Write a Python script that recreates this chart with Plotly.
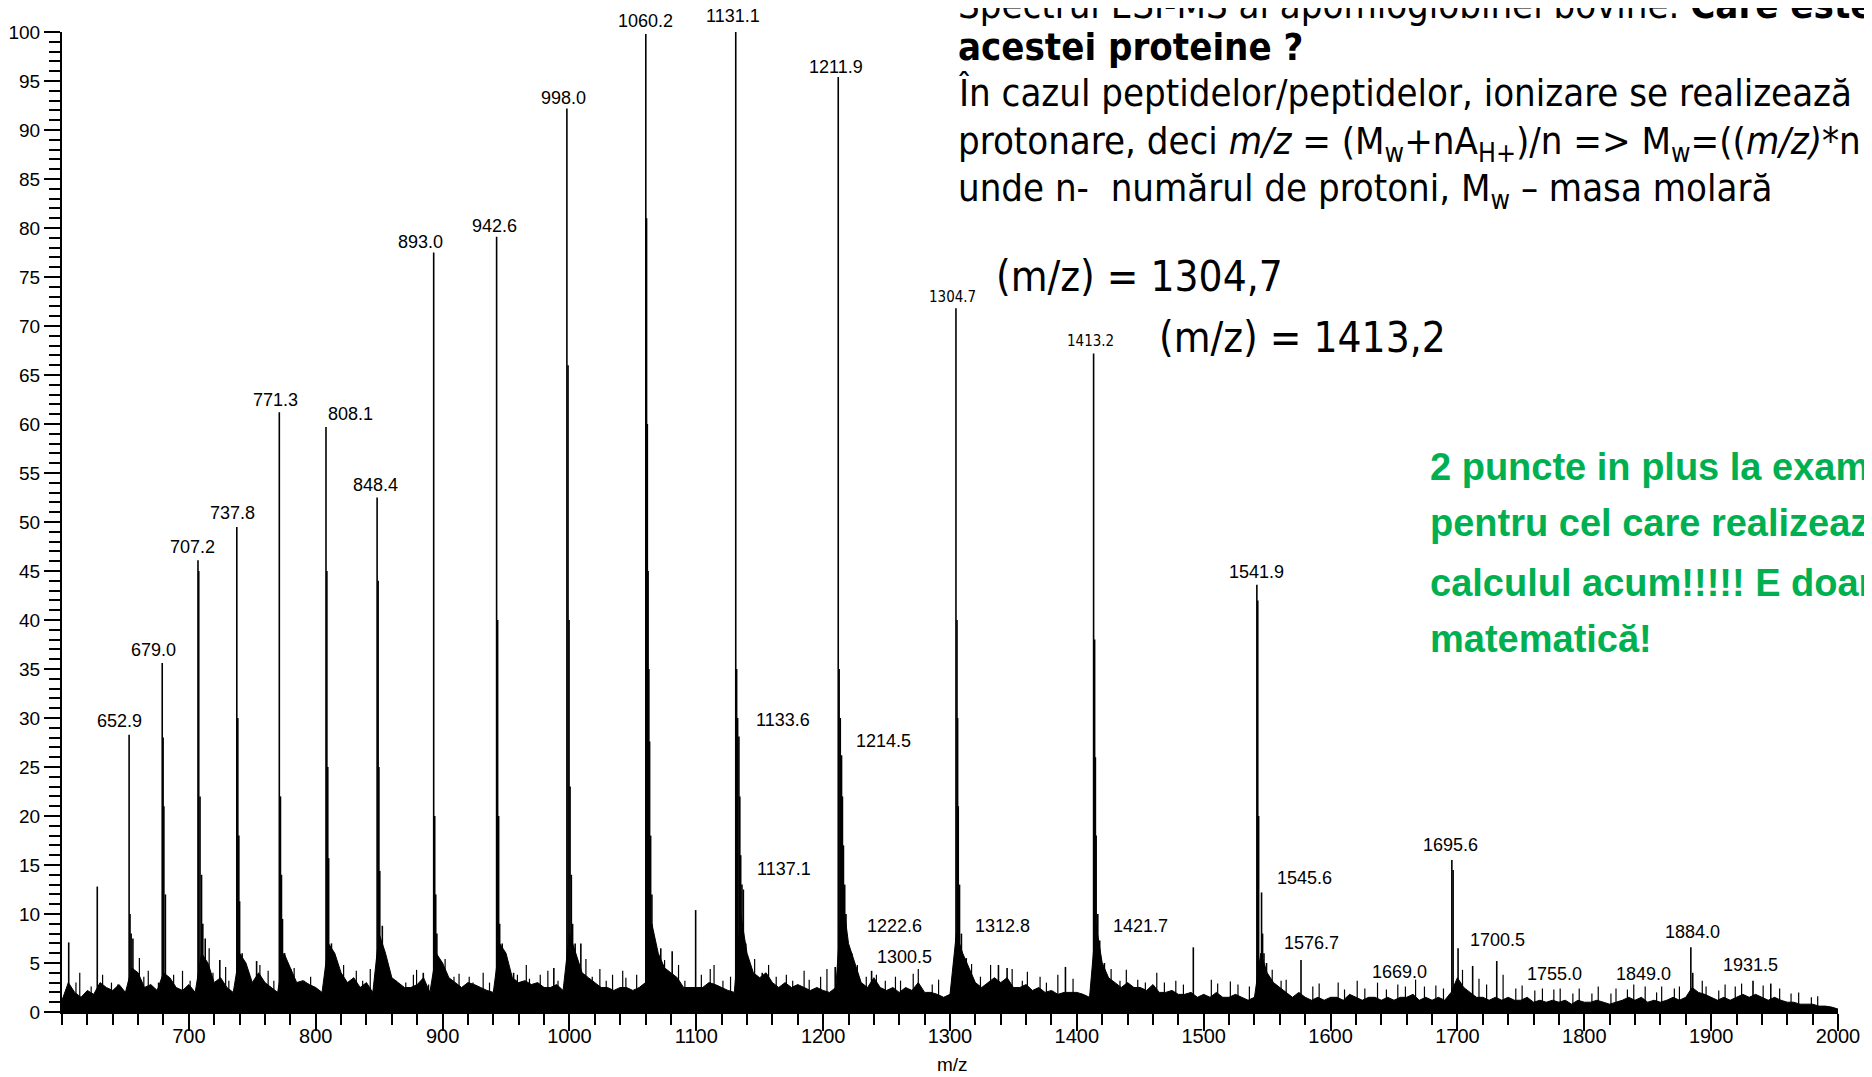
import plotly.graph_objects as go

# ---------------- data ----------------
# baseline (noise) profile of the spectrum, sampled every 5 m/z units
baseline_mz = list(range(600, 2001, 5))
baseline_int = [
    1.2, 3.0, 2.0, 1.5, 2.2, 1.8, 3.0, 2.5, 2.2, 2.8,   # 600-645
    2.0, 4.5, 4.0, 2.5, 2.8, 2.2, 4.0, 3.5, 2.5, 2.2,   # 650-695
    2.8, 2.0, 6.0, 5.0, 3.0, 3.5, 2.5, 2.0, 6.0, 5.0,   # 700-745
    3.0, 4.0, 3.0, 2.5, 2.0, 6.0, 4.5, 3.0, 3.2, 2.8,   # 750-795
    2.5, 2.0, 7.0, 6.0, 4.0, 3.0, 3.5, 2.5, 3.0, 2.0,   # 800-845
    8.0, 6.0, 3.5, 3.0, 2.5, 2.5, 2.8, 3.5, 2.0, 6.0,   # 850-895
    5.0, 3.5, 3.0, 2.5, 3.0, 2.8, 2.5, 2.2, 2.0, 7.0,   # 900-945
    6.0, 3.5, 3.0, 3.2, 2.8, 3.0, 2.5, 2.5, 2.8, 2.2,   # 950-995
    8.0, 6.0, 4.0, 3.5, 3.0, 2.5, 2.5, 2.2, 2.5, 2.5,   # 1000-1045
    2.2, 2.5, 3.0, 9.0, 6.0, 4.5, 4.0, 3.5, 2.5, 2.5,   # 1050-1095
    2.5, 2.5, 3.0, 2.8, 2.5, 2.2, 2.0, 10.0, 6.0, 4.0,  # 1100-1145
    3.5, 4.0, 3.0, 2.5, 3.0, 2.5, 2.8, 2.5, 2.2, 2.5,   # 1150-1195
    2.2, 2.0, 2.5, 12.0, 7.0, 5.0, 3.0, 2.5, 3.5, 2.5,  # 1200-1245
    2.2, 2.5, 2.0, 2.5, 2.2, 3.0, 2.0, 2.0, 1.8, 1.5,   # 1250-1295
    1.8, 8.0, 6.0, 4.5, 3.0, 2.5, 3.0, 3.5, 3.0, 3.5,   # 1300-1345
    2.5, 2.5, 2.8, 2.2, 2.5, 2.0, 2.2, 1.8, 2.0, 2.0,   # 1350-1395
    2.0, 1.8, 1.5, 9.0, 5.0, 3.5, 3.0, 2.5, 3.0, 2.5,   # 1400-1445
    2.5, 2.2, 2.8, 2.0, 2.0, 2.2, 1.8, 1.8, 2.0, 1.5,   # 1450-1495
    1.8, 1.5, 2.0, 1.5, 1.5, 1.8, 1.5, 1.2, 1.5, 6.0,   # 1500-1545
    4.0, 3.0, 2.5, 2.0, 1.5, 2.0, 1.5, 1.2, 1.5, 1.2,   # 1550-1595
    1.5, 1.5, 1.2, 1.8, 1.5, 1.2, 1.5, 1.5, 1.2, 1.5,   # 1600-1645
    1.2, 1.5, 1.5, 1.8, 1.2, 1.5, 1.2, 1.5, 1.2, 2.0,   # 1650-1695
    3.5, 2.5, 2.0, 1.5, 1.5, 1.2, 1.5, 1.2, 1.5, 1.2,   # 1700-1745
    1.2, 1.5, 1.0, 1.2, 1.0, 1.2, 1.0, 1.2, 0.8, 1.2,   # 1750-1795
    1.0, 1.0, 1.2, 1.0, 0.8, 1.0, 1.2, 1.5, 1.2, 1.5,   # 1800-1845
    1.0, 1.2, 1.0, 1.2, 1.5, 1.2, 1.5, 2.5, 2.0, 1.8,   # 1850-1895
    1.5, 1.2, 1.5, 1.2, 1.5, 1.8, 1.5, 1.8, 1.5, 1.2,   # 1900-1945
    1.5, 1.2, 1.0, 1.0, 0.8, 0.8, 0.8, 0.6, 0.6, 0.5, 0.3,  # 1950-2000
]

# small noise spikes above the baseline (m/z, %)
spike_mz = [
    611, 614, 623, 632, 639, 644, 661, 664.5, 668, 676, 688, 695, 701, 716, 719,
    729, 731.5, 745, 751, 756, 762.5, 767, 783, 791, 796, 815, 822, 824.5, 832, 837,
    843, 857, 863.5, 871, 877, 879.5, 889, 902, 909, 913, 921, 924, 932, 937, 950.5,
    959, 966, 968.5, 977, 983, 991, 1013, 1018, 1024, 1029, 1034, 1042, 1044.5, 1053, 1075,
    1086, 1091, 1104, 1111, 1114, 1121, 1127, 1146, 1157, 1163, 1171, 1176, 1185, 1189, 1198,
    1203, 1227, 1234, 1242, 1249, 1257, 1261, 1271, 1275, 1286, 1291, 1317, 1324, 1332, 1349,
    1357, 1361, 1371, 1376, 1385, 1397, 1427, 1434, 1439, 1448, 1454, 1463, 1469, 1478, 1484,
    1506, 1511, 1521, 1527, 1536, 1554, 1561, 1565, 1586, 1591, 1606, 1611, 1621, 1627, 1637,
    1644, 1653, 1659, 1667, 1674, 1683, 1689, 1704, 1717, 1723, 1736, 1746, 1751, 1761, 1767,
    1776, 1781, 1791, 1796, 1806, 1811, 1821, 1825, 1834, 1839, 1848, 1857, 1861, 1871, 1875,
    1893, 1896, 1906, 1911, 1919, 1924, 1941, 1954, 1963, 1969, 1979, 1984,
]
spike_int = [
    3.0, 4.0, 2.6, 3.8, 3.0, 2.8, 5.5, 3.6, 4.2, 3.0, 3.8, 4.2, 3.2, 6.5, 4.0,
    4.6, 3.2, 4.3, 3.0, 4.8, 4.2, 3.2, 4.5, 3.2, 3.6, 4.5, 4.8, 3.0, 4.2, 3.2,
    4.4, 4.5, 3.2, 3.0, 3.8, 4.3, 2.8, 5.4, 3.6, 3.9, 3.6, 3.0, 4.0, 3.0, 5.2,
    3.8, 4.8, 3.4, 3.8, 4.2, 3.2, 5.4, 3.6, 4.4, 3.2, 3.8, 4.2, 3.5, 3.8, 5.3,
    4.8, 3.2, 3.8, 4.4, 4.8, 3.2, 3.6, 5.4, 4.8, 3.6, 3.8, 3.2, 4.2, 3.3, 3.6,
    4.4, 4.8, 3.6, 3.8, 3.2, 3.6, 3.2, 3.9, 4.4, 2.8, 3.3, 4.9, 3.6, 4.8, 4.4,
    3.2, 4.1, 3.6, 3.0, 3.8, 3.4, 4.4, 3.2, 4.3, 3.3, 3.0, 4.0, 3.0, 3.2, 2.8,
    3.3, 2.9, 3.1, 2.8, 2.6, 4.3, 3.2, 3.3, 2.6, 2.9, 3.0, 2.3, 3.2, 2.4, 3.0,
    2.3, 2.8, 2.6, 3.3, 2.6, 2.7, 2.4, 4.3, 3.4, 2.8, 3.8, 2.4, 2.7, 2.2, 2.4,
    2.3, 2.4, 1.9, 2.4, 1.9, 2.6, 1.9, 2.4, 2.3, 2.8, 2.6, 2.0, 2.6, 2.4, 2.6,
    3.2, 2.6, 2.2, 2.8, 2.6, 2.9, 2.7, 2.4, 1.9, 2.0, 1.5, 1.6,
]

# individual peaks (m/z, relative intensity %)
peak_mz = [
    605.3, 627.8, 652.9, 653.6, 654.5, 655.9, 679.0, 679.7, 680.3, 681.5,
    707.2, 707.8, 708.8, 710.0, 711.0, 712.9, 724.4, 737.8, 738.6, 739.4,
    740.0, 742.0, 753.4, 771.3, 772.2, 773.0, 773.8, 775.5, 780.4, 808.1,
    808.8, 809.5, 810.2, 812.4, 848.4, 849.2, 849.8, 850.5, 852.5, 854.0,
    884.8, 893.0, 893.8, 894.6, 895.5, 897.5, 942.6, 943.4, 944.2, 945.0,
    947.0, 956.0, 987.7, 998.0, 998.9, 999.7, 1000.5, 1001.5, 1002.5, 1004.5,
    1009.0, 1060.2, 1060.8, 1061.4, 1062.0, 1062.6, 1063.2, 1064.0, 1065.0, 1067.0,
    1072.0, 1081.0, 1099.5, 1131.1, 1131.8, 1132.6, 1133.6, 1134.3, 1135.0, 1136.0,
    1137.1, 1139.0, 1152.0, 1209.5, 1211.9, 1212.6, 1213.5, 1214.5, 1215.2, 1216.0,
    1217.0, 1218.0, 1222.6, 1238.2, 1304.7, 1305.5, 1306.0, 1306.5, 1307.5, 1309.0,
    1312.8, 1338.2, 1345.0, 1391.0, 1413.2, 1414.0, 1414.6, 1415.2, 1416.5, 1418.0,
    1421.7, 1491.8, 1541.9, 1542.6, 1543.3, 1545.6, 1546.4, 1547.5, 1549.5, 1576.7,
    1695.6, 1696.6, 1700.5, 1712.0, 1731.0, 1884.0, 1885.5, 1933.0, 1947.0,
]
peak_int = [
    7.1, 12.8, 28.3, 10.0, 8.0, 7.5, 35.6, 28.0, 21.0, 12.0,
    46.1, 45.0, 22.0, 14.0, 9.0, 7.5, 5.3, 49.5, 30.0, 18.0,
    11.3, 6.0, 5.2, 61.2, 22.0, 14.0, 9.5, 6.0, 4.4, 59.7,
    45.0, 25.0, 15.7, 7.0, 52.5, 44.0, 25.0, 14.4, 8.8, 6.0,
    4.0, 77.5, 20.0, 12.0, 8.0, 5.0, 79.1, 40.0, 20.0, 9.0,
    7.0, 4.0, 4.5, 92.2, 66.0, 40.0, 23.0, 14.0, 9.0, 7.0,
    7.0, 99.8, 81.0, 60.0, 45.0, 35.0, 27.6, 18.0, 12.0, 7.0,
    6.5, 6.2, 10.4, 100.0, 35.0, 30.0, 28.1, 22.0, 16.0, 13.0,
    12.5, 7.0, 4.0, 4.6, 95.4, 35.0, 30.0, 26.2, 22.0, 17.0,
    13.0, 10.0, 6.0, 4.2, 71.8, 40.0, 30.0, 21.0, 13.0, 8.0,
    5.5, 4.8, 4.5, 4.6, 67.2, 38.0, 26.0, 18.0, 10.0, 7.3,
    5.0, 6.6, 43.6, 42.0, 20.0, 12.2, 8.0, 6.0, 5.0, 5.3,
    15.5, 14.5, 6.5, 4.7, 5.2, 6.6, 4.0, 3.2, 2.9,
]

# annotated peak labels and where they sit (m/z, % intensity)
label_text = [
    "652.9", "679.0", "707.2", "737.8", "771.3", "808.1", "848.4", "893.0",
    "942.6", "998.0", "1060.2", "1131.1", "1211.9", "1133.6", "1214.5", "1137.1",
    "1222.6", "1300.5", "1304.7", "1312.8", "1413.2", "1421.7", "1541.9", "1545.6",
    "1576.7", "1695.6", "1669.0", "1700.5", "1755.0", "1849.0", "1884.0", "1931.5",
]
label_mz = [
    645.2, 672.0, 702.7, 734.2, 768.1, 827.2, 846.9, 882.4,
    940.7, 995.1, 1059.7, 1129.1, 1210.3, 1168.5, 1247.3, 1169.3,
    1256.0, 1263.9, 1301.7, 1341.4, 1410.4, 1449.9, 1541.3, 1579.1,
    1584.6, 1694.9, 1654.0, 1731.2, 1776.2, 1846.3, 1885.0, 1931.4,
]
label_lvl = [
    29.7, 36.9, 47.4, 50.9, 62.4, 61.0, 53.8, 78.6,
    80.2, 93.3, 101.1, 101.6, 96.4, 29.8, 27.7, 14.6,
    8.8, 5.6, 73.0, 8.8, 68.5, 8.8, 44.9, 13.7,
    7.0, 17.0, 4.1, 7.3, 3.9, 3.9, 8.2, 4.8,
]

x_ticks = list(range(700, 2001, 100))
y_ticks = list(range(0, 101, 5))
X_RANGE = [600, 2000]
Y_RANGE = [0, 100]

slide_lines = [
    "Spectrul ESI-MS al apomioglobinei bovine. <b>Care este masa moleculară a</b>",
    "<b>acestei proteine ?</b>",
    "În cazul peptidelor/peptidelor, ionizare se realizează prin",
    "protonare, deci <i>m/z</i> = (M<sub>w</sub>+nA<sub>H+</sub>)/n => M<sub>w</sub>=((<i>m/z)</i>*n – nA<sub>H+</sub>)",
    "unde n-  numărul de protoni, M<sub>w</sub> – masa molară",
]
mz_lines = ["(m/z) = 1304,7", "(m/z) = 1413,2"]
green_lines = [
    "2 puncte in plus la examen",
    "pentru cel care realizează",
    "calculul acum!!!!! E doar",
    "matematică!",
]

# ---------------- figure ----------------
# the page body adds an 8 px margin, so the figure is 8 px smaller than the window
OFF = 8
W, H = 1872 - OFF, 1077 - OFF
ML, MR, MT, MB = 62 - OFF, 34, 32 - OFF, 65
PW, PH = W - ML - MR, H - MT - MB


def paper(px, py):
    """screen pixel -> paper coordinates"""
    return (px - OFF - ML) / PW, (H - MB - (py - OFF)) / PH


fig = go.Figure()

fig.add_trace(go.Scatter(
    x=baseline_mz, y=baseline_int, mode="lines",
    line=dict(color="black", width=1), fill="tozeroy", fillcolor="black",
    hoverinfo="skip",
))


def sticks(xs_in, ys_in):
    xs, ys = [], []
    for m, h in zip(xs_in, ys_in):
        xs += [m, m, None]
        ys += [0, h, None]
    return xs, ys


nx, ny = sticks(spike_mz, spike_int)
fig.add_trace(go.Scatter(x=nx, y=ny, mode="lines",
                         line=dict(color="black", width=1.2), hoverinfo="skip"))
sx, sy = sticks(peak_mz, peak_int)
fig.add_trace(go.Scatter(x=sx, y=sy, mode="lines",
                         line=dict(color="black", width=1.6), hoverinfo="skip"))

LBL = "Liberation Sans, Arial, Helvetica, sans-serif"
NARROW = "Liberation Sans Narrow, Arial Narrow, DejaVu Sans Condensed, sans-serif"

annotations = []
for t, xm, yl in zip(label_text, label_mz, label_lvl):
    small = t in ("1304.7", "1413.2")
    annotations.append(dict(
        x=(xm - X_RANGE[0]) / (X_RANGE[1] - X_RANGE[0]),
        y=(yl - Y_RANGE[0]) / (Y_RANGE[1] - Y_RANGE[0]),
        xref="paper", yref="paper", text=t, showarrow=False,
        xanchor="center", yanchor="middle",
        font=dict(family=NARROW if small else LBL, size=15 if small else 18, color="black"),
    ))

# axis title
ax, ay = paper(952, 1064)
annotations.append(dict(x=ax, y=ay, xref="paper", yref="paper", text="m/z",
                        showarrow=False, xanchor="center", yanchor="middle",
                        font=dict(family=LBL, size=19, color="black")))

# slide text
for t, cy in zip(slide_lines, [5, 47, 93, 143, 191]):
    x0, y0 = paper(956, cy)
    annotations.append(dict(x=x0, y=y0, xref="paper", yref="paper", text=t,
                            showarrow=False, xanchor="left", yanchor="middle",
                            font=dict(family=NARROW, size=38, color="black")))
for t, (cx, cy) in zip(mz_lines, [(994, 276), (1157, 338)]):
    x0, y0 = paper(cx, cy)
    annotations.append(dict(x=x0, y=y0, xref="paper", yref="paper", text=t,
                            showarrow=False, xanchor="left", yanchor="middle",
                            font=dict(family=NARROW, size=42, color="black")))
for t, cy in zip(green_lines, [467, 523, 583, 639]):
    x0, y0 = paper(1428, cy)
    annotations.append(dict(x=x0, y=y0, xref="paper", yref="paper",
                            text="<b>" + t + "</b>", showarrow=False,
                            xanchor="left", yanchor="middle",
                            font=dict(family=LBL, size=38, color="#00B050")))

axis_common = dict(
    showline=True, linecolor="black", linewidth=2, ticks="outside",
    tickwidth=2, tickcolor="black", showgrid=False, zeroline=False,
    automargin=False,
)

fig.update_layout(
    width=W, height=H, margin=dict(l=ML, r=MR, t=MT, b=MB),
    paper_bgcolor="white", plot_bgcolor="white", showlegend=False,
    annotations=annotations,
    xaxis=dict(range=X_RANGE, tickvals=x_ticks, ticklen=17, ticklabelstandoff=-12,
               tickfont=dict(family=LBL, color="black", size=20),
               minor=dict(ticks="outside", ticklen=11, tickwidth=2, tickcolor="black",
                          tick0=600, dtick=20, showgrid=False),
               **axis_common),
    yaxis=dict(range=Y_RANGE, tickvals=y_ticks, ticklen=16,
               tickfont=dict(family=LBL, color="black", size=19),
               minor=dict(ticks="outside", ticklen=11, tickwidth=2, tickcolor="black",
                          tick0=0, dtick=1, showgrid=False),
               **axis_common),
)

fig.write_html("out.html")
